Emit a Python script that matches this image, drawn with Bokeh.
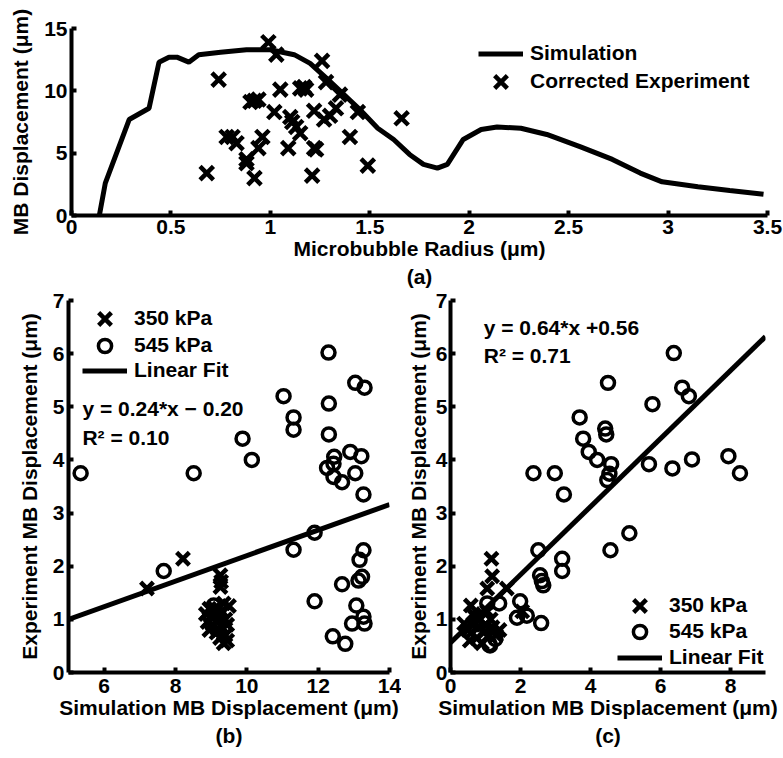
from bokeh.plotting import figure
from bokeh.layouts import column, row
from bokeh.models import Range1d, Legend, LegendItem, Label, Title, FixedTicker
from bokeh.embed import file_html
from bokeh.resources import INLINE

# ---------------- data: panel (a) ----------------
sim_radius = [0.14, 0.17, 0.29, 0.39, 0.44, 0.49, 0.53, 0.59, 0.64, 0.75, 0.88, 1.00,
              1.12, 1.20, 1.29, 1.37, 1.45, 1.54, 1.62, 1.70, 1.77, 1.84, 1.89, 1.97,
              2.06, 2.14, 2.26, 2.39, 2.56, 2.72, 2.86, 2.97, 3.15, 3.31, 3.48]
sim_disp = [0.0, 2.6, 7.7, 8.6, 12.3, 12.7, 12.7, 12.3, 12.9, 13.1, 13.3, 13.3,
            12.9, 12.2, 10.9, 9.7, 8.5, 7.0, 6.1, 4.9, 4.1, 3.8, 4.1, 6.1,
            6.9, 7.1, 7.0, 6.5, 5.5, 4.5, 3.4, 2.7, 2.3, 2.0, 1.7]
exp_radius = [0.99, 1.03, 0.74, 1.05, 1.15, 1.18, 1.17, 1.26, 1.28, 1.35, 0.90, 0.94,
              1.02, 1.10, 1.22, 1.27, 1.33, 1.44, 1.66, 1.13, 1.15, 0.78, 0.81, 0.83,
              0.96, 0.94, 1.40, 1.09, 1.22, 1.23, 0.88, 0.88, 0.68, 0.92, 1.21, 1.49,
              0.92, 1.11, 1.30]
exp_disp = [13.9, 12.9, 10.9, 10.1, 10.2, 10.1, 10.3, 12.4, 10.7, 9.7, 9.1, 9.3,
            8.3, 7.9, 8.4, 7.7, 8.6, 8.3, 7.8, 7.1, 6.6, 6.3, 6.3, 5.8,
            6.3, 5.4, 6.3, 5.4, 5.4, 5.3, 4.5, 4.2, 3.4, 3.0, 3.2, 4.0,
            9.2, 7.5, 8.0]
a_xticks = [0, 0.5, 1, 1.5, 2, 2.5, 3, 3.5]
a_xtick_labels = ["0", "0.5", "1", "1.5", "2", "2.5", "3", "3.5"]
a_yticks = [0, 5, 10, 15]

# ---------------- data: panel (b) ----------------
b350_sim = [7.20, 8.21, 9.26, 9.26, 9.28, 8.85, 8.90, 8.95, 9.00, 9.05, 9.10, 9.15,
            9.20, 9.25, 9.30, 9.30, 9.35, 9.40, 9.40, 9.45, 9.50, 9.35, 9.45, 9.20, 8.95]
b350_exp = [1.58, 2.14, 1.83, 1.61, 1.71, 1.10, 0.95, 0.80, 1.05, 0.90, 1.20, 0.75,
            1.00, 0.65, 0.85, 1.15, 0.55, 0.70, 1.00, 0.90, 1.25, 1.30, 0.60, 0.80, 1.20]
b545_sim = [5.34, 7.67, 8.51, 9.88, 10.14, 11.03, 11.31, 11.31, 11.31, 11.90, 11.90,
            12.29, 12.30, 12.30, 12.25, 12.43, 12.45, 12.43, 12.67, 12.90, 13.21, 13.04,
            13.27, 13.04, 13.30, 13.27, 13.16, 13.23, 13.13, 12.67, 13.07, 12.95, 13.27,
            13.30, 12.41, 12.76, 9.07, 9.20, 9.10]
b545_exp = [3.75, 1.91, 3.75, 4.40, 4.00, 5.20, 4.80, 4.57, 2.31, 2.63, 1.34,
            6.02, 5.06, 4.48, 3.85, 3.93, 4.06, 3.68, 3.58, 4.15, 4.07, 3.75,
            3.35, 5.45, 5.36, 2.30, 2.12, 1.80, 1.73, 1.66, 1.26, 0.92, 1.05,
            0.92, 0.68, 0.54, 1.26, 1.10, 0.95]
b_fit_slope, b_fit_intercept = 0.24, -0.20
b_xrange = [5, 14]
b_xticks = [6, 8, 10, 12, 14]
b_eq = "y = 0.24*x \u2212 0.20"
b_r2 = "R\u00b2 = 0.10"

# ---------------- data: panel (c) ----------------
c350_sim = [1.17, 1.19, 1.05, 1.61, 0.58, 0.39, 0.55, 0.60, 0.65, 0.70, 0.75, 0.80,
            0.85, 0.90, 0.95, 1.00, 1.05, 1.10, 1.15, 1.20, 1.30, 0.65, 1.40, 0.50, 2.05]
c350_exp = [2.14, 1.81, 1.58, 1.58, 1.26, 0.92, 0.60, 0.75, 0.90, 1.05, 0.65, 0.85,
            1.00, 0.55, 0.75, 0.90, 1.15, 0.70, 1.00, 0.85, 0.70, 1.10, 0.80, 0.80, 1.15]
c545_sim = [6.38, 4.50, 6.62, 6.81, 5.77, 3.69, 3.79, 3.95, 4.19, 4.42, 4.45, 4.59,
            4.54, 4.48, 2.37, 2.98, 3.24, 5.67, 6.34, 6.90, 7.94, 8.27, 5.11, 4.57,
            2.51, 3.19, 3.19, 2.56, 2.61, 2.65, 1.99, 1.90, 2.59, 1.10, 1.13, 1.28,
            1.39, 1.05, 2.18]
c545_exp = [6.01, 5.45, 5.36, 5.20, 5.05, 4.80, 4.40, 4.15, 4.00, 4.59, 4.48, 3.92,
            3.74, 3.62, 3.75, 3.75, 3.35, 3.92, 3.84, 4.01, 4.07, 3.75, 2.62, 2.30,
            2.30, 2.14, 1.91, 1.83, 1.72, 1.64, 1.34, 1.03, 0.93, 0.53, 0.51, 0.63,
            1.30, 1.30, 1.07]
c_fit_slope, c_fit_intercept = 0.64, 0.56
c_xrange = [0, 9]
c_xticks = [0, 2, 4, 6, 8]
c_eq = "y = 0.64*x +0.56"
c_r2 = "R\u00b2 = 0.71"

bc_yticks = [0, 1, 2, 3, 4, 5, 6, 7]

FONT = "Liberation Sans"
FS = "21px"
GH = 45


def style(p, xticks, yticks, xoverrides=None, ylab_standoff=9, ytick_standoff=4,
          xtick_standoff=6):
    for ax in (p.xaxis[0], p.yaxis[0]):
        ax.axis_line_width = 4
        ax.axis_line_color = "black"
        ax.major_tick_in = 5
        ax.major_tick_out = 0
        ax.major_tick_line_width = 4
        ax.major_tick_line_color = "black"
        ax.minor_tick_line_color = None
        ax.major_label_text_font = FONT
        ax.major_label_text_font_style = "bold"
        ax.major_label_text_font_size = FS
        ax.major_label_text_color = "black"
        ax.axis_label_text_font = FONT
        ax.axis_label_text_font_style = "bold"
        ax.axis_label_text_font_size = FS
        ax.axis_label_text_color = "black"
    p.xaxis.major_label_standoff = xtick_standoff
    p.xaxis.axis_label_standoff = 0
    p.yaxis.major_label_standoff = ytick_standoff
    p.yaxis.axis_label_standoff = ylab_standoff
    p.xaxis.ticker = FixedTicker(ticks=xticks)
    p.yaxis.ticker = FixedTicker(ticks=yticks)
    if xoverrides:
        p.xaxis.major_label_overrides = xoverrides
    p.grid.visible = False
    p.outline_line_color = None
    p.background_fill_color = "white"
    p.border_fill_color = "white"


def panel_title(p, text):
    p.add_layout(Title(text=text, align="center", text_font=FONT, text_font_size=FS,
                       text_font_style="bold", text_color="black", standoff=0, offset=0),
                 "below")


def add_legend_item(p, label, renderer, center, x, gh=GH):
    p.add_layout(Legend(items=[LegendItem(label=label, renderers=[renderer])],
                        location=(x, center - gh / 2), orientation="vertical",
                        border_line_color=None, background_fill_alpha=0,
                        padding=0, margin=0, spacing=0,
                        glyph_width=45, glyph_height=gh, label_height=gh,
                        label_standoff=7, label_text_font=FONT,
                        label_text_font_style="bold", label_text_font_size=FS,
                        label_text_color="black"))


# ---------------- panel (a) ----------------
pa = figure(width=783, height=288, output_backend="svg", toolbar_location=None,
            x_range=Range1d(0, 3.5), y_range=Range1d(0, 15),
            min_border_left=71, min_border_right=16, min_border_top=28,
            min_border_bottom=73, x_axis_label="Microbubble Radius (\u03bcm)",
            y_axis_label="MB Displacement (\u03bcm)")
style(pa, a_xticks, a_yticks, dict(zip(a_xticks, a_xtick_labels)), xtick_standoff=4)
ra_line = pa.line(sim_radius, sim_disp, line_color="black", line_width=5)
ra_pts = pa.scatter(exp_radius, exp_disp, marker="x", size=19, line_color="black",
                    line_width=4.5)
add_legend_item(pa, "Simulation", ra_line, 162, 407)
add_legend_item(pa, "Corrected Experiment", ra_pts, 134, 407)
panel_title(pa, "(a)")


def bottom_panel(xr, xticks, s350x, s350y, s545x, s545y, slope, icpt, eq, r2,
                 eq_pos, r2_pos, leg_x, leg_offsets, width, left, right, tag,
                 ylab_standoff, ytick_standoff):
    p = figure(width=width, height=470, output_backend="svg", toolbar_location=None,
               x_range=Range1d(*xr), y_range=Range1d(0, 7),
               min_border_left=left, min_border_right=right, min_border_top=12,
               min_border_bottom=86,
               x_axis_label="Simulation MB Displacement (\u03bcm)",
               y_axis_label="Experiment MB Displacement (\u03bcm)")
    style(p, xticks, bc_yticks, ylab_standoff=ylab_standoff,
          ytick_standoff=ytick_standoff)
    fit_y = [slope * x + icpt for x in xr]
    r_fit = p.line(xr, fit_y, line_color="black", line_width=5)
    r_350 = p.scatter(s350x, s350y, marker="x", size=18, line_color="black",
                      line_width=4.5)
    r_545 = p.scatter(s545x, s545y, marker="circle", size=13, line_color="black",
                      fill_color=None, line_width=3.5)
    for (lab, rend, gh), off in zip((("350 kPa", r_350, GH), ("545 kPa", r_545, 33),
                                     ("Linear Fit", r_fit, GH)), leg_offsets):
        add_legend_item(p, lab, rend, off, leg_x, gh)
    for txt, (lx, ly) in ((eq, eq_pos), (r2, r2_pos)):
        p.add_layout(Label(x=lx, y=ly, text=txt, text_font=FONT, text_font_size=FS,
                           text_font_style="bold", text_color="black",
                           text_baseline="middle", text_align="left"))
    panel_title(p, tag)
    return p


pb = bottom_panel(b_xrange, b_xticks, b350_sim, b350_exp, b545_sim, b545_exp,
                  b_fit_slope, b_fit_intercept, b_eq, b_r2, (5.39, 4.97), (5.39, 4.43),
                  14, (354, 327, 302), 401, 68, 12, "(b)", 9, 4)
pc = bottom_panel(c_xrange, c_xticks, c350_sim, c350_exp, c545_sim, c545_exp,
                  c_fit_slope, c_fit_intercept, c_eq, c_r2, (0.95, 6.50), (0.95, 5.97),
                  167, (67, 41, 15), 382, 49, 18, "(c)", 3, 3)

layout = column(pa, row(pb, pc))
open("out.html", "w").write(file_html(layout, INLINE))
